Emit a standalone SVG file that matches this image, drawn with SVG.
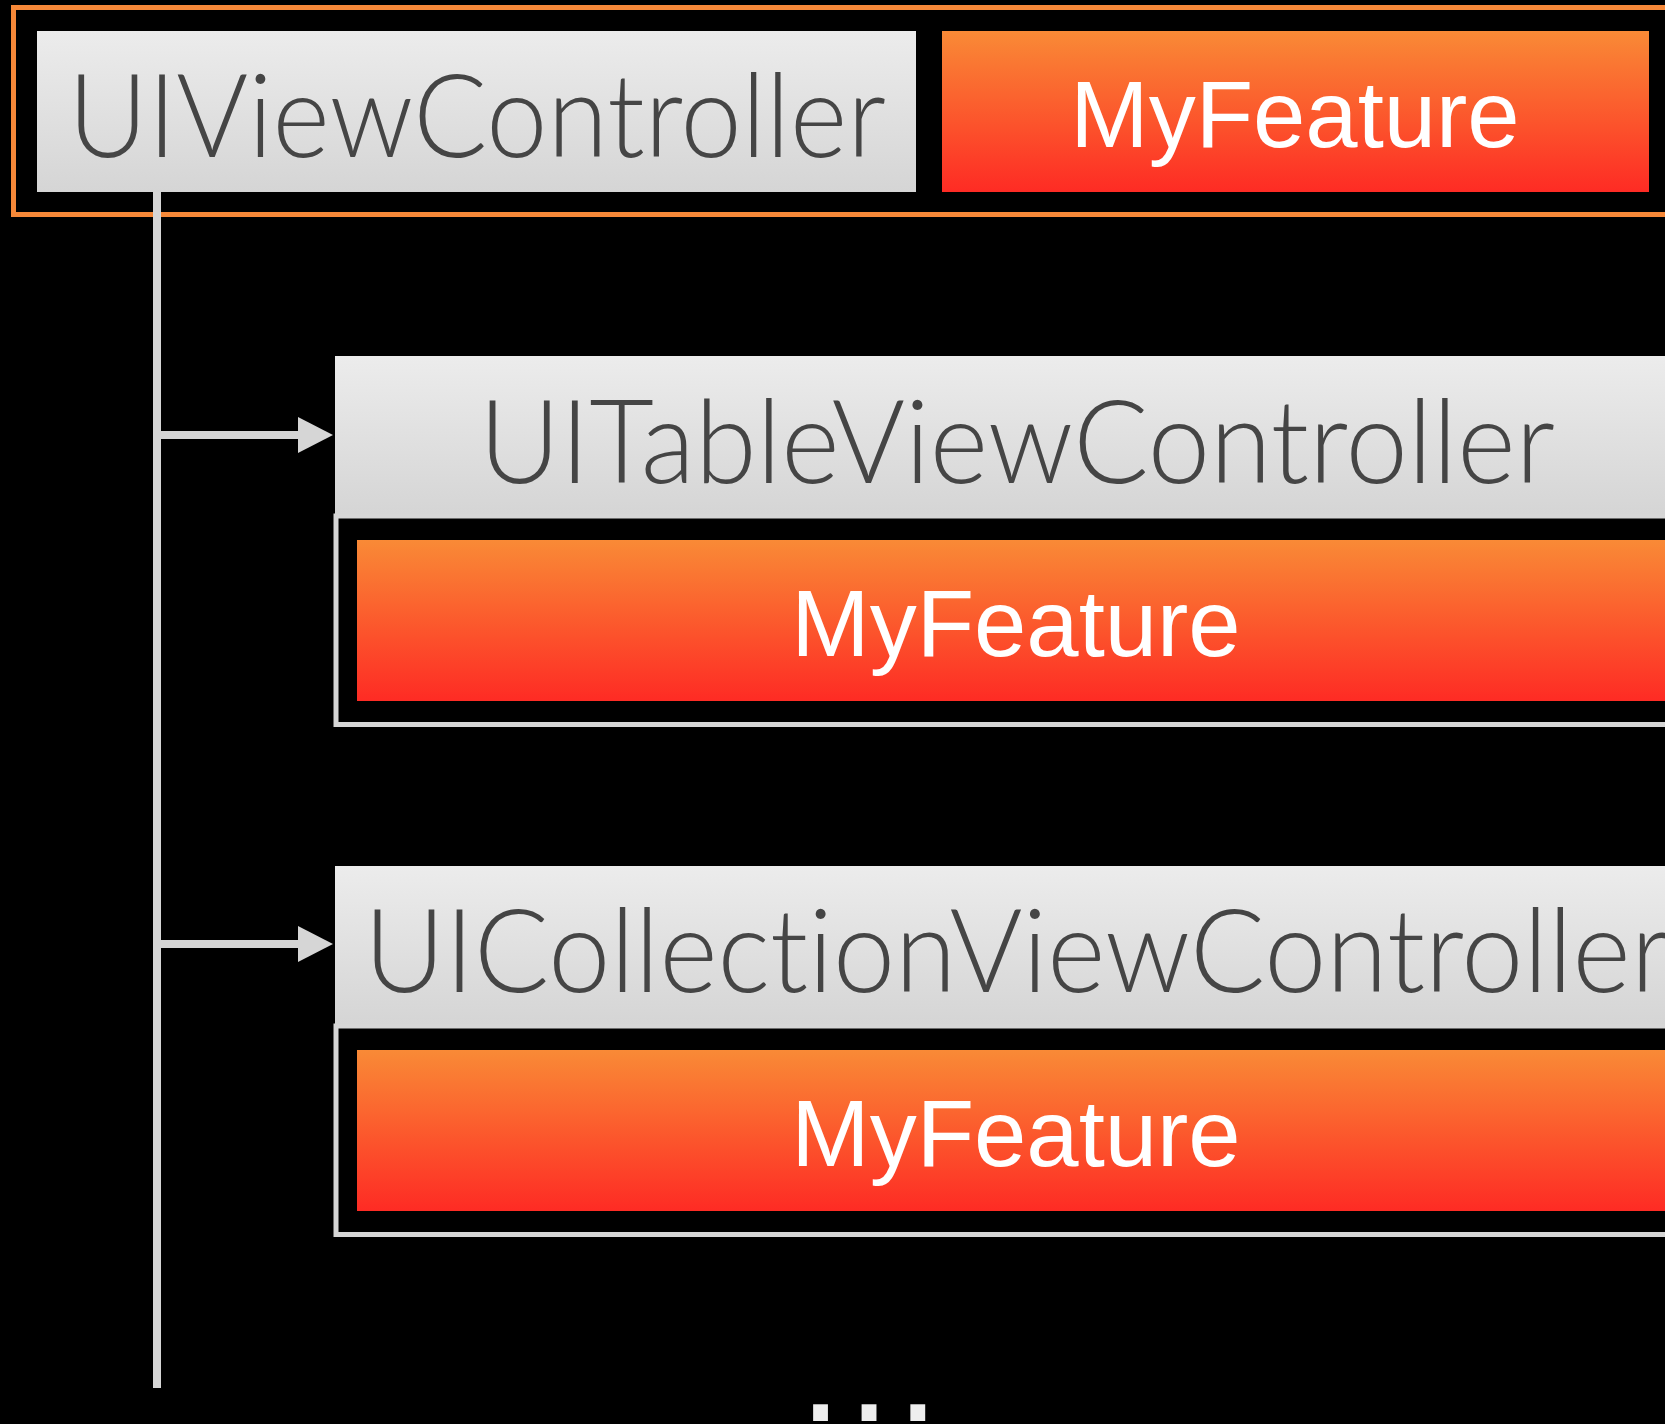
<svg xmlns="http://www.w3.org/2000/svg" width="1665" height="1424" viewBox="0 0 1665 1424">
  <defs>
    <linearGradient id="gGray" x1="0" y1="0" x2="0" y2="1">
      <stop offset="0" stop-color="#ececec"/>
      <stop offset="1" stop-color="#d5d5d5"/>
    </linearGradient>
    <linearGradient id="gOrange" x1="0" y1="0" x2="0" y2="1">
      <stop offset="0" stop-color="#f98a36"/>
      <stop offset="1" stop-color="#fe2b24"/>
    </linearGradient>
    <marker id="arrow" markerUnits="userSpaceOnUse" markerWidth="36" markerHeight="36" viewBox="0 0 35 36" refX="0" refY="18" orient="auto">
      <path d="M0,0 L35,18 L0,36 z" fill="#d6d6d6"/>
    </marker>
  </defs>
  <style>
    .gray { fill: url(#gGray); }
    .orange { fill: url(#gOrange); }
    .frame { fill: none; stroke: #d6d6d6; stroke-width: 5; }
    .cls { font-family: Lato, Roboto, "Liberation Sans", Arial, sans-serif; font-weight: 300; font-size: 116px; fill: #454545; font-variant-ligatures: none; font-feature-settings: "liga" 0, "clig" 0, "dlig" 0; }
    .feat { font-family: "Liberation Sans", Arial, sans-serif; font-size: 94px; fill: #ffffff; text-anchor: middle; }
    .conn { stroke: #d6d6d6; stroke-width: 8; fill: none; }
    .dots { font-family: "Liberation Sans", Arial, sans-serif; font-size: 155px; fill: #eeeeee; letter-spacing: 5.5px; }
  </style>
  <rect x="0" y="0" width="1665" height="1424" fill="#000000"/>

  <g id="top-frame">
    <rect x="13.5" y="7.5" width="1700" height="207" fill="none" stroke="#f68838" stroke-width="5"/>
  </g>

  <g id="UIViewController">
    <rect class="gray" x="37" y="31" width="879" height="161"/>
    <text class="cls" x="68" y="157" textLength="818" lengthAdjust="spacingAndGlyphs">UIViewController</text>
  </g>

  <g id="MyFeature-top">
    <rect class="orange" x="942" y="31" width="707" height="161"/>
    <text class="feat" x="1295" y="147">MyFeature</text>
  </g>

  <g id="UITableViewController">
    <rect class="frame" x="336" y="516" width="1400" height="208.5"/>
    <rect class="gray" x="335" y="356" width="1400" height="158"/>
    <text class="cls" x="479" y="483" textLength="1076" lengthAdjust="spacingAndGlyphs">UITableViewController</text>
  </g>

  <g id="MyFeature-table">
    <rect class="orange" x="357" y="540" width="1400" height="161"/>
    <text class="feat" x="1016" y="656">MyFeature</text>
  </g>

  <g id="UICollectionViewController">
    <rect class="frame" x="336" y="1026" width="1400" height="208.5"/>
    <rect class="gray" x="335" y="866" width="1400" height="158"/>
    <text class="cls" x="364" y="992" textLength="1306" lengthAdjust="spacingAndGlyphs">UICollectionViewController</text>
  </g>

  <g id="MyFeature-collection">
    <rect class="orange" x="357" y="1050" width="1400" height="161"/>
    <text class="feat" x="1016" y="1166">MyFeature</text>
  </g>

  <g id="connectors">
    <line class="conn" x1="157" y1="192" x2="157" y2="1388" stroke-width="7"/>
    <line class="conn" x1="157" y1="435" x2="298" y2="435" marker-end="url(#arrow)"/>
    <line class="conn" x1="157" y1="944" x2="298" y2="944" marker-end="url(#arrow)"/>
  </g>

  <g id="more">
    <text class="dots" x="799" y="1421">...</text>
  </g>
</svg>
